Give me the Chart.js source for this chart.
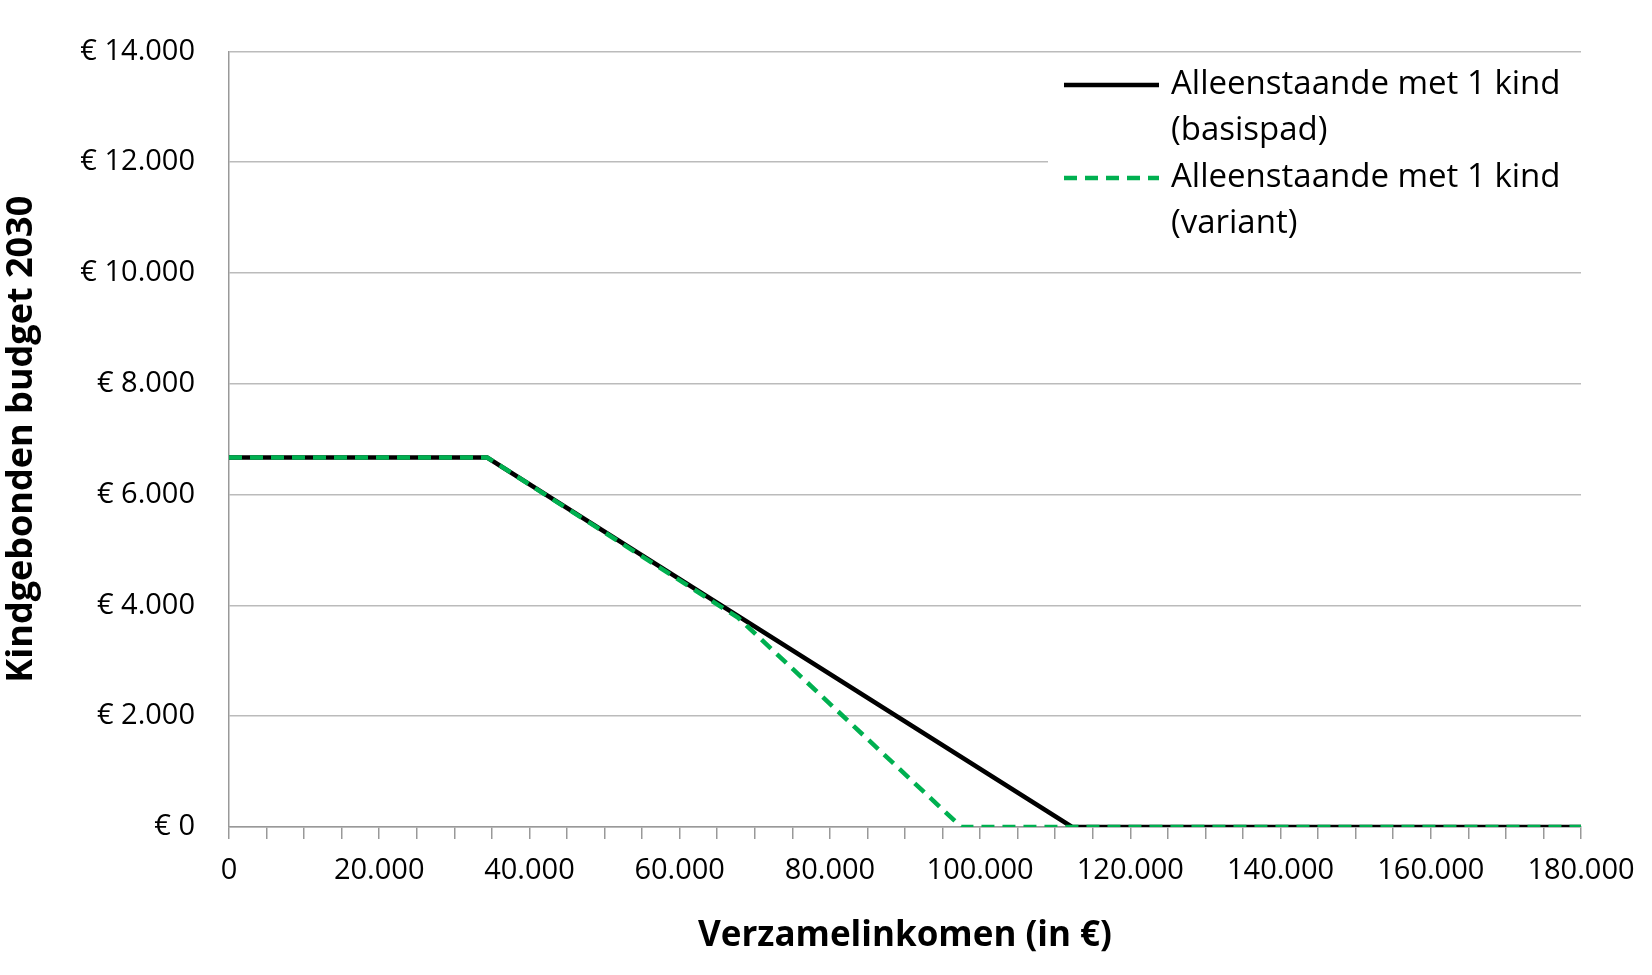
<!DOCTYPE html>
<html><head><meta charset="utf-8">
<script src="https://cdn.jsdelivr.net/npm/chart.js@4/dist/chart.umd.min.js"></script>
<style>html,body{margin:0;background:#fff}#w{width:1652px;height:975px}</style>
</head><body><div id="w"><canvas id="c"></canvas></div>
<script>
const incomeBasis=[0,34370,112240,180000];
const budgetBasis=[6670,6670,0,0];
const incomeVariant=[0,34370,67760,97500,180000];
const budgetVariant=[6670,6670,3780,0,0];
const seriesLabels=[["Alleenstaande met 1 kind","(basispad)"],["Alleenstaande met 1 kind","(variant)"]];
const xTitle="Verzamelinkomen (in €)";
const yTitle="Kindgebonden budget 2030";
const fmt=v=>String(Math.round(v)).replace(/\B(?=(\d{3})+(?!\d))/g,".");
const F="'Open Sans', sans-serif";
const legendPlugin={id:'lg',afterDatasetsDraw(ch){
  const c=ch.ctx;c.save();
  c.fillStyle='#fff';c.fillRect(1048,58,540,190);
  c.font="33px "+F;c.textBaseline='middle';c.fillStyle='#000';
  const items=[{col:'#000',dash:[],y:85},{col:'#00b050',dash:[13,8],y:178}];
  items.forEach((it,i)=>{
    c.strokeStyle=it.col;c.lineWidth=4.5;c.setLineDash(it.dash);
    c.beginPath();c.moveTo(1064,it.y);c.lineTo(1159,it.y);c.stroke();
    c.fillText(seriesLabels[i][0],1171,it.y);
    c.fillText(seriesLabels[i][1],1171,it.y+46);
  });
  c.restore();
}};
new Chart(document.getElementById('c'),{
  type:'line',
  data:{datasets:[
    {label:'variant',data:incomeVariant.map((x,i)=>({x,y:budgetVariant[i]})),borderColor:'#00b050',borderWidth:4.5,borderDash:[13,8],pointRadius:0,order:0},
    {label:'basis',data:incomeBasis.map((x,i)=>({x,y:budgetBasis[i]})),borderColor:'#000',borderWidth:4.5,pointRadius:0,order:1}
  ]},
  options:{responsive:true,maintainAspectRatio:false,animation:false,
    layout:{padding:{top:37,right:71,bottom:0,left:0}},
    plugins:{legend:{display:false},tooltip:{enabled:false}},
    scales:{
      x:{type:'linear',min:0,max:180000,afterFit:s=>{s.height=148;},
        ticks:{stepSize:5000,autoSkip:false,maxRotation:0,font:{family:F,size:29},color:'#000',padding:14,
          callback:v=>v%20000===0?fmt(v):''},
        grid:{drawOnChartArea:false,tickLength:12,color:'#999',lineWidth:1.5},
        border:{color:'#999',width:1.5},
        title:{display:true,text:xTitle,font:{family:F,size:35,weight:'bold'},color:'#000',padding:{top:0,bottom:18}}},
      y:{min:0,max:14000,afterFit:s=>{s.width=229;},
        ticks:{stepSize:2000,font:{family:F,size:29},color:'#000',padding:34,callback:v=>'€ '+fmt(v)},
        grid:{drawTicks:false,color:'#bbb',lineWidth:1.5},
        border:{color:'#999',width:1.5},
        title:{display:true,text:yTitle,font:{family:F,size:36,weight:'bold'},color:'#000',padding:{top:0,bottom:0}}}
    }},
  plugins:[legendPlugin]
});
</script></body></html>
